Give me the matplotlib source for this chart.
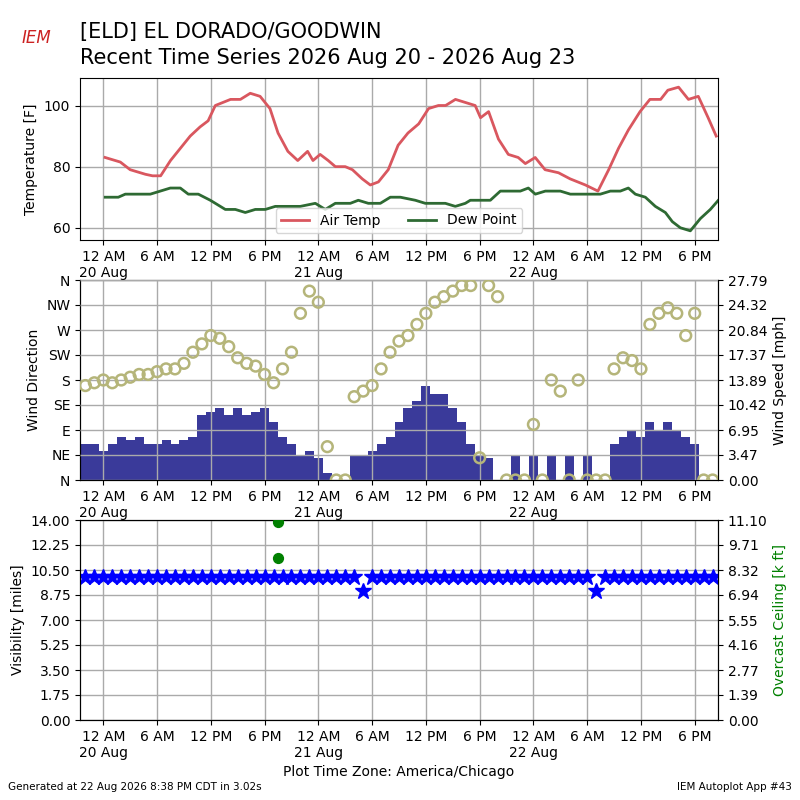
import matplotlib
matplotlib.use("Agg")
import matplotlib.pyplot as plt
import numpy as np

# hours after 12 AM 20 Aug (America/Chicago)
temp_h = [0.2, 1.9, 3.0, 4.7, 5.5, 6.4, 7.5, 8.6, 9.7, 10.8, 11.7, 12.5, 14.2, 15.3, 16.4, 17.5,
          18.6, 19.5, 20.6, 21.7, 22.8, 23.4, 24.2, 25.1, 25.9, 27.0, 27.8, 28.9, 29.8, 30.7, 31.8,
          32.9, 34.0, 35.2, 36.3, 37.4, 38.2, 39.3, 40.4, 41.5, 42.1, 43.0, 44.1, 45.2, 46.3, 47.1,
          48.2, 49.3, 50.8, 52.1, 53.8, 55.2, 56.4, 57.5, 58.6, 59.9, 61.0, 62.2, 63.0, 64.2, 65.3,
          66.4, 67.5, 68.4]
temp = [83, 81.5, 79, 77.5, 77, 77, 82, 86, 90, 93, 95, 100, 102, 102, 104, 103,
        99, 91, 85, 82, 85, 82, 84, 82, 80, 80, 79, 76, 74, 75, 79,
        87, 91, 94, 99, 100, 100, 102, 101, 100, 96, 98, 89, 84, 83, 81,
        83, 79, 78, 76, 74, 72, 79, 86, 92, 98, 102, 102, 105, 106, 102,
        103, 96, 90]
dew_x = [105, 118, 125, 150, 160, 170, 180, 188, 198, 210, 225, 235, 245, 255, 265, 275, 300,
         315, 325, 335, 350, 358, 368, 380, 390, 400, 415, 425, 445, 455, 465, 470, 490, 500,
         520, 528, 535, 545, 560, 570, 600, 610, 620, 628, 635, 645, 655, 665, 672, 680, 690,
         700, 710, 718]
dew = [70, 70, 71, 71, 72, 73, 73, 71, 71, 69, 66, 66, 65, 66, 66, 67, 67,
       68, 66, 68, 68, 69, 68, 68, 70, 70, 69, 68, 68, 67, 68, 69, 69, 72,
       72, 73, 71, 72, 72, 71, 71, 72, 72, 73, 71, 70, 67, 65, 62, 60, 59,
       63, 66, 69]
dew_h = [(x - 103) / 8.96 for x in dew_x]

wind_h = list(range(-2, 69))
wdir = [170, 175, 180, 175, 180, 185, 190, 190, 195, 200, 200, 210, 230, 245, 260, 255, 240, 220,
        210, 205, 190, 175, 200, 230, 300, 340, 320, 60, 0, 0, 150, 160, 170, 200, 230, 250, 260,
        280, 300, 320, 330, 340, 350, 350, 40, 350, 330, 0, 0, 0, 100, 0, 180, 160, 0, 180, 0, 0,
        0, 200, 220, 215, 200, 280, 300, 310, 300, 260, 300, 0, 0]
wspd = [5, 5, 4, 5, 6, 5.5, 6, 5, 5, 5.5, 5, 5.5, 6, 9, 9.5, 10, 9, 10, 9, 9.5, 10, 8, 6, 5,
        3.5, 4, 3, 1, 0, 0, 3.5, 3.5, 4, 5, 6, 8, 10, 11, 13, 12, 12, 10, 8, 5, 3.5, 3, 0, 0,
        3.5, 0, 3.5, 0, 3.5, 0, 3.5, 0, 3.5, 0, 0, 5, 6, 7, 6, 8, 7, 8, 7, 6, 5, 0, 0]

vis_h = list(range(-2, 69))
vis = [10] * len(vis_h)
vis[vis_h.index(29)] = 9
vis[vis_h.index(55)] = 9
ceil_h = [19.5, 19.5]
ceil = [11.0, 8.97]

ticks = list(range(0, 67, 6))
tick_labels = []
for t in ticks:
    hr = t % 24
    lab = {0: "12 AM", 6: "6 AM", 12: "12 PM", 18: "6 PM"}[hr]
    if hr == 0:
        lab += "\n%d Aug" % (20 + t // 24)
    tick_labels.append(lab)

xlim = (-2.6, 68.6)
fig = plt.figure(figsize=(8, 8), dpi=100)
ax1 = fig.add_axes([0.1, 0.70, 0.7975, 0.2025])
ax2 = fig.add_axes([0.1, 0.40, 0.7975, 0.25])
ax3 = fig.add_axes([0.1, 0.10, 0.7975, 0.25])

ax1.plot(temp_h, temp, color="#d9575f", lw=2, label="Air Temp")
ax1.plot(dew_h, dew, color="#2e6a33", lw=2, label="Dew Point")
ax1.set_ylim(56, 109)
ax1.set_yticks([60, 80, 100])
ax1.set_ylabel("Temperature [F]")
ax1.legend(loc="lower center", ncol=2)

# wind: direction on the left (primary), speed bars on the right (twin)
ax2b = ax2.twinx()
ax2b.bar(wind_h, wspd, width=1.0, color="#3a3a9a")
ax2b.set_ylim(0, 27.79)
ax2b.set_yticks(np.linspace(0, 27.79, 9))
ax2b.set_yticklabels(["%.2f" % v for v in np.linspace(0, 27.79, 9)])
ax2b.set_ylabel("Wind Speed [mph]")
ax2.scatter(wind_h, wdir, s=60, facecolors="none", edgecolors="#b5b57a", linewidths=1.8, zorder=3)
ax2.set_ylim(0, 360)
ax2.set_yticks(range(0, 361, 45))
ax2.set_yticklabels(["N", "NE", "E", "SE", "S", "SW", "W", "NW", "N"])
ax2.set_ylabel("Wind Direction")
ax2.set_zorder(ax2b.get_zorder() + 1)
ax2.patch.set_visible(False)
ax2b.set_xlim(*xlim)

ax3.plot(vis_h, vis, "*", color="blue", ms=12, zorder=3)
ax3.set_ylim(0, 14)
ax3.set_yticks(np.linspace(0, 14, 9))
ax3.set_yticklabels(["%.2f" % v for v in np.linspace(0, 14, 9)])
ax3.set_ylabel("Visibility [miles]")
ax3.set_xlabel("Plot Time Zone: America/Chicago")
ax3b = ax3.twinx()
ax3b.scatter(ceil_h, ceil, s=50, color="green", zorder=4)
ax3b.set_ylim(0, 11.10)
ax3b.set_yticks(np.linspace(0, 11.10, 9))
ax3b.set_yticklabels(["%.2f" % v for v in np.linspace(0, 11.10, 9)])
ax3b.set_ylabel("Overcast Ceiling [k ft]", color="green")

for ax in (ax1, ax2, ax3):
    ax.set_xlim(*xlim)
    ax.set_xticks(ticks)
    ax.set_xticklabels(tick_labels)
    ax.grid(True, color="#aaaaaa", lw=1)
    ax.set_axisbelow(True)
ax2.set_axisbelow(False)

fig.text(0.1, 0.96, "[ELD] EL DORADO/GOODWIN", fontsize=15, va="center")
fig.text(0.1, 0.928, "Recent Time Series 2026 Aug 20 - 2026 Aug 23", fontsize=15, va="center")
fig.text(0.045, 0.953, "IEM", fontsize=12, color="#cc2222", style="italic", ha="center", va="center")
fig.text(0.01, 0.012, "Generated at 22 Aug 2026 8:38 PM CDT in 3.02s", fontsize=7.5)
fig.text(0.99, 0.012, "IEM Autoplot App #43", fontsize=7.5, ha="right")

fig.savefig("out.png", dpi=100)
